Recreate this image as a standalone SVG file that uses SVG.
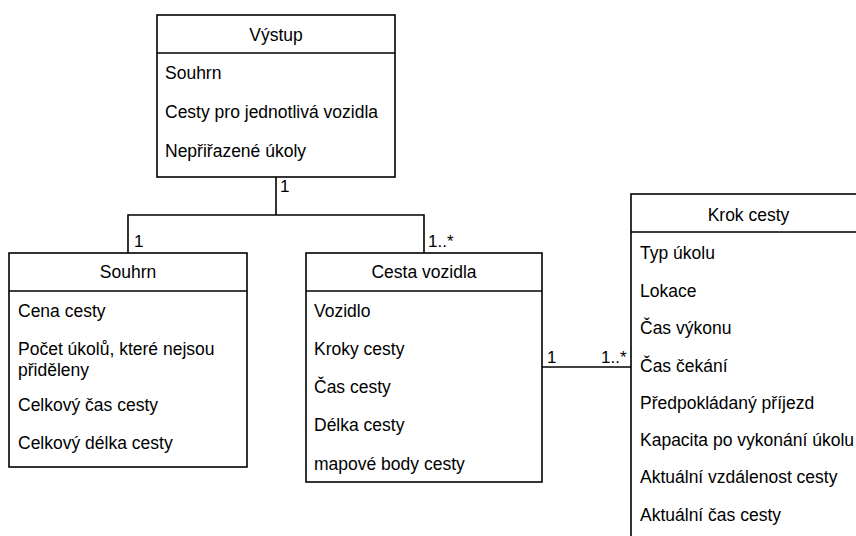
<svg xmlns="http://www.w3.org/2000/svg" width="856" height="536" viewBox="0 0 856 536">
<style>
.box{fill:#fff;stroke:#000;stroke-width:1.6}
.div{stroke:#000;stroke-width:1.6}
text{font-family:"Liberation Sans",Arial,sans-serif;font-size:17.5px;fill:#000}
.h{text-anchor:middle}
.lbl{font-size:17px}
.conn{fill:none;stroke:#000;stroke-width:1.6}
</style>
<rect width="856" height="536" fill="#fff"/>
<g id="connectors">
<polyline class="conn" points="276,177 276,215"/>
<polyline class="conn" points="128,253 128,215 424,215 424,253"/>
<polyline class="conn" points="542,367 631,367"/>
<text class="lbl" x="280" y="192">1</text>
<text class="lbl" x="134" y="247">1</text>
<text class="lbl" x="428" y="247">1..*</text>
<text class="lbl" x="547" y="363">1</text>
<text class="lbl" x="601" y="363">1..*</text>
</g>
<g id="vystup">
<rect class="box" x="157" y="15" width="238" height="162"/>
<line class="div" x1="157" y1="53" x2="395" y2="53"/>
<text class="h" x="276" y="41">Výstup</text>
<text x="165" y="79">Souhrn</text>
<text x="165" y="118">Cesty pro jednotlivá vozidla</text>
<text x="165" y="157">Nepřiřazené úkoly</text>
</g>
<g id="souhrn">
<rect class="box" x="9" y="253" width="238" height="214"/>
<line class="div" x1="9" y1="291" x2="247" y2="291"/>
<text class="h" x="128" y="278">Souhrn</text>
<text x="18" y="317">Cena cesty</text>
<text x="18" y="355">Počet úkolů, které nejsou</text>
<text x="18" y="376">přiděleny</text>
<text x="18" y="411">Celkový čas cesty</text>
<text x="18" y="449">Celkový délka cesty</text>
</g>
<g id="cesta-vozidla">
<rect class="box" x="306" y="253" width="236" height="229"/>
<line class="div" x1="306" y1="291" x2="542" y2="291"/>
<text class="h" x="424" y="278">Cesta vozidla</text>
<text x="314" y="317">Vozidlo</text>
<text x="314" y="355">Kroky cesty</text>
<text x="314" y="393">Čas cesty</text>
<text x="314" y="431">Délka cesty</text>
<text x="314" y="470">mapové body cesty</text>
</g>
<g id="krok-cesty">
<rect class="box" x="631" y="194" width="235" height="360"/>
<line class="div" x1="631" y1="232" x2="866" y2="232"/>
<text class="h" x="748.5" y="221">Krok cesty</text>
<text x="640" y="259">Typ úkolu</text>
<text x="640" y="297">Lokace</text>
<text x="640" y="334">Čas výkonu</text>
<text x="640" y="372">Čas čekání</text>
<text x="640" y="409">Předpokládaný příjezd</text>
<text x="640" y="446">Kapacita po vykonání úkolu</text>
<text x="640" y="483">Aktuální vzdálenost cesty</text>
<text x="640" y="521">Aktuální čas cesty</text>
</g>
</svg>
